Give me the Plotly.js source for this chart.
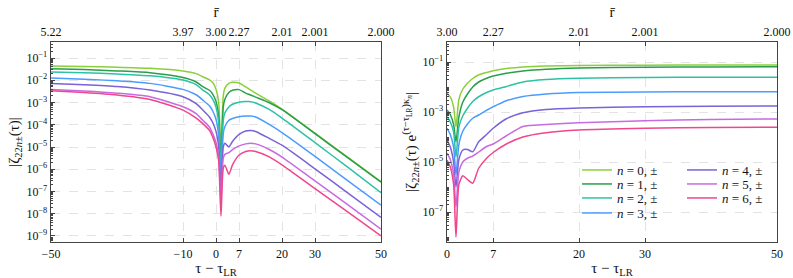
<!DOCTYPE html>
<html><head><meta charset="utf-8">
<script src="https://cdn.plot.ly/plotly-3.0.1.min.js"></script>
<style>html,body{margin:0;padding:0;background:#fff}#c{width:793px;height:278px}</style>
</head><body><div id="c"></div>
<script>
// ---- data (log10 of |zeta|) ----
const seriesNames = ["<i>n</i> = 0, ±","<i>n</i> = 1, ±","<i>n</i> = 2, ±","<i>n</i> = 3, ±","<i>n</i> = 4, ±","<i>n</i> = 5, ±","<i>n</i> = 6, ±"];
const colors = ["#8ccf3a","#2a9e4c","#2ec2a4","#4c9cff","#7a62d8","#c86ae2","#f0468c"];

// left panel: |zeta(tau)|
const tauL = [-50,-40,-30,-20,-10,-6,-4,-2,-1,0,0.8,1.5,2.2,2.7,3.9,5,7,9,10.5,12,16,20,30,40,50];
const leftN0 = [-1.36,-1.38,-1.41,-1.46,-1.58,-1.70,-1.84,-1.98,-2.10,-2.40,-3.00,-5.00,-2.70,-2.35,-2.14,-2.09,-2.12,-2.30,-2.44,-2.58,-2.92,-3.30,-4.38,-5.47,-6.56];
const leftN1 = [-1.48,-1.52,-1.58,-1.66,-1.88,-2.08,-2.29,-2.45,-2.62,-2.95,-3.60,-5.50,-3.20,-2.85,-2.55,-2.45,-2.42,-2.58,-2.66,-2.76,-3.00,-3.32,-4.40,-5.49,-6.58];
const leftN2 = [-1.63,-1.66,-1.72,-1.80,-1.99,-2.20,-2.44,-2.65,-2.85,-3.20,-3.90,-6.00,-3.80,-3.46,-3.20,-3.08,-2.99,-2.96,-2.96,-3.02,-3.30,-3.70,-4.80,-5.92,-7.05];
const leftN3 = [-1.90,-1.95,-2.02,-2.14,-2.41,-2.65,-2.89,-3.15,-3.38,-3.75,-4.50,-6.50,-4.40,-4.08,-3.80,-3.72,-3.64,-3.61,-3.61,-3.65,-3.97,-4.35,-5.42,-6.52,-7.61];
const leftN4 = [-2.14,-2.20,-2.28,-2.44,-2.74,-3.05,-3.34,-3.65,-3.90,-4.30,-5.00,-7.00,-5.00,-4.83,-5.00,-4.75,-4.43,-4.28,-4.26,-4.30,-4.60,-4.92,-5.98,-7.07,-8.16];
const leftN5 = [-2.41,-2.48,-2.58,-2.74,-3.19,-3.50,-3.80,-4.10,-4.40,-4.80,-5.40,-7.50,-5.50,-5.33,-5.25,-5.12,-4.95,-4.86,-4.83,-4.86,-5.10,-5.45,-6.52,-7.60,-8.69];
const leftN6 = [-2.47,-2.55,-2.66,-2.86,-3.34,-3.70,-3.95,-4.25,-4.55,-5.00,-5.60,-8.10,-5.95,-5.82,-6.23,-5.80,-5.36,-5.20,-5.17,-5.20,-5.43,-5.80,-6.87,-7.93,-9.00];

// right panel: |zeta(tau) e^{(tau-tauLR) kappa_n}|
const tauR = [0,0.5,1.0,1.36,1.8,2.4,3.1,3.9,4.8,6,7,9,11.5,15,20,30,40,50];
const rightN0 = [-2.25,-2.40,-2.80,-3.60,-2.50,-2.08,-1.85,-1.66,-1.52,-1.42,-1.35,-1.26,-1.20,-1.16,-1.14,-1.13,-1.12,-1.12];
const rightN1 = [-2.92,-3.10,-3.50,-4.20,-3.20,-2.60,-2.28,-2.00,-1.80,-1.65,-1.56,-1.45,-1.36,-1.29,-1.24,-1.21,-1.20,-1.19];
const rightN2 = [-3.19,-3.40,-3.80,-4.80,-3.60,-3.15,-2.85,-2.58,-2.39,-2.22,-2.12,-1.98,-1.80,-1.70,-1.65,-1.62,-1.61,-1.61];
const rightN3 = [-3.65,-3.90,-4.40,-5.50,-4.30,-3.76,-3.48,-3.25,-3.12,-2.93,-2.79,-2.55,-2.38,-2.28,-2.22,-2.20,-2.19,-2.19];
const rightN4 = [-4.12,-4.40,-5.00,-6.00,-4.90,-4.52,-4.50,-4.59,-4.19,-3.90,-3.65,-3.27,-3.03,-2.90,-2.84,-2.79,-2.77,-2.76];
const rightN5 = [-4.65,-4.90,-5.50,-6.80,-5.40,-5.00,-4.85,-4.76,-4.60,-4.38,-4.28,-3.95,-3.58,-3.50,-3.43,-3.35,-3.30,-3.28];
const rightN6 = [-4.92,-5.20,-5.90,-8.00,-5.90,-5.55,-5.70,-5.85,-5.25,-4.85,-4.62,-4.28,-4.00,-3.83,-3.72,-3.65,-3.62,-3.61];

// ticks
const leftTauTicks = [-50,-10,0,7,20,30,50];
const leftTauLabels = ["−50","−10","0","7","20","30","50"];
const leftRbarLabels = ["5.22","3.97","3.00","2.27","2.01","2.001","2.000"];
const rightTauTicks = [0,7,20,30,50];
const rightTauLabels = ["0","7","20","30","50"];
const rightRbarLabels = ["3.00","2.27","2.01","2.001","2.000"];
const leftYExp = [-1,-2,-3,-4,-5,-6,-7,-8,-9];
const rightYExp = [-1,-3,-5,-7];

// ---- build ----
const leftSets = [leftN0,leftN1,leftN2,leftN3,leftN4,leftN5,leftN6];
const rightSets = [rightN0,rightN1,rightN2,rightN3,rightN4,rightN5,rightN6];
const pw = a => a.map(v => Math.pow(10, v));
const legendIds = ['legend','legend2','legend3','legend4','legend5','legend6','legend7'];
const traces = [];
leftSets.forEach((s,i) => traces.push({x:tauL, y:pw(s), xaxis:'x', yaxis:'y', mode:'lines',
  line:{color:colors[i], width:1.5, shape:'spline', smoothing:0.6}, showlegend:false, hoverinfo:'skip'}));
rightSets.forEach((s,i) => traces.push({x:tauR, y:pw(s), xaxis:'x2', yaxis:'y2', mode:'lines', name:seriesNames[i],
  legend: legendIds[i],
  line:{color:colors[i], width:1.5, shape:'spline', smoothing:0.6}, hoverinfo:'skip'}));
traces.push({x:[], y:[], xaxis:'x3', yaxis:'y', showlegend:false});
traces.push({x:[], y:[], xaxis:'x4', yaxis:'y2', showlegend:false});

const F = "'Liberation Serif', serif";
const fr = px => px/793;
const fy = px => (278-px)/278;
const dL = [fr(51), fr(381)], dR = [fr(447), fr(777)];
const yDom = [fy(242), fy(42)];
const supText = e => "10<sup>−" + Math.abs(e) + "</sup>";

const common = {showline:true, linecolor:'#444', linewidth:1.3, ticks:'inside', ticklen:4, tickcolor:'#444',
  showgrid:true, gridcolor:'#dcdcdc', griddash:'dash', gridwidth:0.8, zeroline:false, tickfont:{family:F,size:12,color:'#111'}};

const layout = {
  width:793, height:278, margin:{l:0,r:0,t:0,b:0}, paper_bgcolor:'#fff', plot_bgcolor:'#fff',
  font:{family:F, color:'#111'},
  xaxis: Object.assign({}, common, {domain:dL, range:[-50,50], anchor:'y', tickmode:'array', tickvals:leftTauTicks, ticktext:leftTauLabels,
    title:{text:"τ − τ<sub>LR</sub>", font:{family:F,size:15}, standoff:3}}),
  xaxis3: Object.assign({}, common, {domain:dL, range:[-50,50], overlaying:'x', side:'top', anchor:'y', tickmode:'array', tickvals:leftTauTicks, ticktext:leftRbarLabels,
    showgrid:false, title:{text:"r̄", font:{family:F,size:15}, standoff:3}}),
  yaxis: Object.assign({}, common, {domain:yDom, type:'log', range:[-9.27,-0.28], anchor:'x', mirror:true, tickmode:'array',
    tickvals:leftYExp.map(e=>Math.pow(10,e)), ticktext:leftYExp.map(supText),
    minor:{ticks:'inside', ticklen:2, tickcolor:'#444', dtick:'D1', showgrid:false},
    title:{text:"|ζ<sub>22<i>n</i>±</sub>(τ)|", font:{family:F,size:15}, standoff:3}}),
  xaxis2: Object.assign({}, common, {domain:dR, range:[0,50], anchor:'y2', tickmode:'array', tickvals:rightTauTicks, ticktext:rightTauLabels,
    title:{text:"τ − τ<sub>LR</sub>", font:{family:F,size:15}, standoff:3}}),
  xaxis4: Object.assign({}, common, {domain:dR, range:[0,50], overlaying:'x2', side:'top', anchor:'y2', tickmode:'array', tickvals:rightTauTicks, ticktext:rightRbarLabels,
    showgrid:false, title:{text:"r̄", font:{family:F,size:15}, standoff:3}}),
  yaxis2: Object.assign({}, common, {domain:yDom, type:'log', range:[-8.2,-0.2], anchor:'x2', mirror:true, tickmode:'array',
    tickvals:rightYExp.map(e=>Math.pow(10,e)), ticktext:rightYExp.map(supText),
    minor:{ticks:'inside', ticklen:2, tickcolor:'#444', dtick:'D1', showgrid:false},
    title:{text:"|ζ<sub>22<i>n</i>±</sub>(τ) e<sup>(τ−τ<sub>LR</sub>)κ<sub><i>n</i></sub></sup>|", font:{family:F,size:15}, standoff:2}}),
  showlegend:true
};
// one single-entry legend per series, placed in two columns as in the reference
const rowY = [165,179,193,208,165,179,193];
const colX = [577,577,577,577,682,682,682];
legendIds.forEach((id,i) => {
  layout[id] = {x:fr(colX[i]), y:fy(rowY[i]-10), xanchor:'left', yanchor:'top', bgcolor:'rgba(0,0,0,0)',
    font:{family:F,size:13}, itemwidth:30, borderwidth:0};
});
Plotly.newPlot('c', traces, layout, {displayModeBar:false, staticPlot:true});
</script></body></html>
